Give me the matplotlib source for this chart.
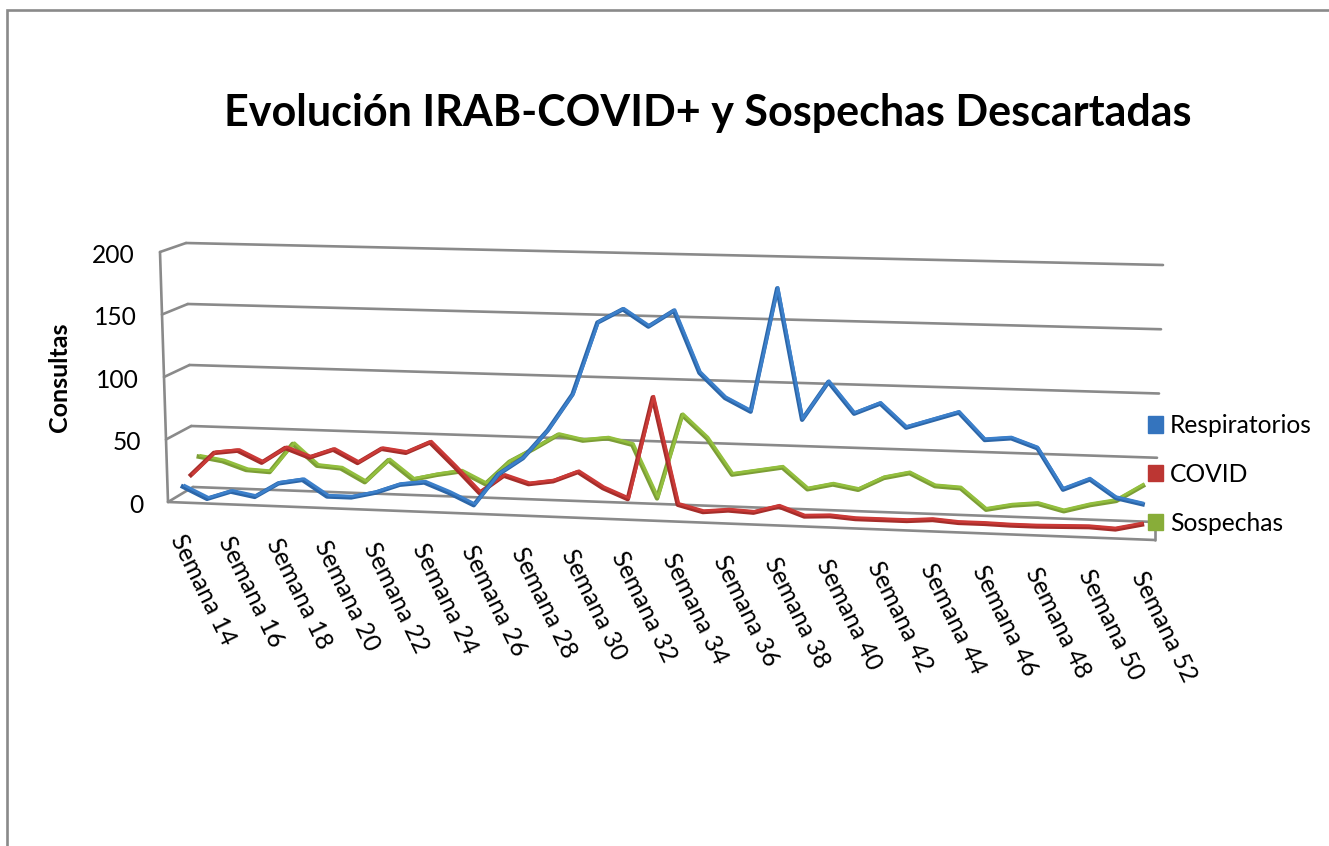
#!/usr/bin/env python3
"""Excel-style pseudo 3D line chart: weekly consultations, drawn on a skewed box."""

import numpy as np

import matplotlib
matplotlib.use("Agg")
import matplotlib.pyplot as plt  # noqa: E402
from matplotlib.patches import Patch  # noqa: E402
from matplotlib.transforms import Transform  # noqa: E402

plt.rcParams["font.family"] = ["Lato", "DejaVu Sans"]

WEEKS = list(range(14, 53))
TICK_WEEKS = WEEKS[::2]
GRID_VALUES = [0, 50, 100, 150, 200]

RESPIRATORIOS = [11, 2, 8.5, 5, 16.5, 20, 7.5, 7.5, 12, 19, 21.5, 14, 5, 30, 43.5,
                 66, 95, 152, 163, 150, 163, 115, 96, 86, 182.5, 81, 111, 87, 95.5,
                 77.5, 84, 90.5, 70, 72, 65, 34, 42.5, 29, 25]
COVID = [16.5, 35, 37.5, 28.5, 41, 34, 41, 31, 43, 40.5, 49.5, 30.5, 10.5, 25, 19,
         22, 30, 18, 10, 91, 7, 2, 4, 3, 8.5, 1.5, 2.5, 1, 1, 1, 2.5, 1, 1, 0.5,
         0.5, 1, 1.5, 0.5, 5]
SOSPECHAS = [27.5, 24.5, 18, 17, 40.5, 23.5, 22, 11.5, 30, 15, 19.5, 23, 13.5, 32,
             43, 55, 51, 53.5, 49, 7, 74, 56, 28, 31.5, 35, 18.5, 23, 19.5, 29.5,
             34, 24.5, 23.5, 7.5, 11.5, 13.5, 8.5, 14, 18, 30.5]

GRID = "#8a8a8a"
# corners of the box in pixels, indexed [side][depth][level]
BOX_X = np.array([[[168, 160], [193, 186]], [[1155, 1163], [1155, 1163]]], float)
BOX_Y = np.array([[[502, 252], [487, 243]], [[540, 277], [522, 265]]], float)


def project(week, value, depth):
    """Pixel position of (week, value) at a depth in the box (0 front, 1 back)."""
    s = (np.asarray(week, float) - 13.5) / 39.0
    t = s + 0.06 * s * (s - 1)  # weeks get wider to the right, like the perspective
    v = np.asarray(value, float) / 200.0

    def blend(box):
        left = box[0, 0, 0] * (1 - depth) + box[0, 1, 0] * depth
        left_top = box[0, 0, 1] * (1 - depth) + box[0, 1, 1] * depth
        right = box[1, 0, 0] * (1 - depth) + box[1, 1, 0] * depth
        right_top = box[1, 0, 1] * (1 - depth) + box[1, 1, 1] * depth
        low = left + (right - left) * t
        high = left_top + (right_top - left_top) * t
        return low + (high - low) * v

    return blend(BOX_X), blend(BOX_Y)


class Plane(Transform):
    """(week, value) on a fixed depth -> pixels."""
    input_dims = output_dims = 2

    def __init__(self, plane_depth):
        super().__init__()
        self.plane_depth = plane_depth

    def transform_non_affine(self, values):
        values = np.asarray(values, float)
        return np.column_stack(project(values[:, 0], values[:, 1], self.plane_depth))


class SideWall(Transform):
    """(depth, value) on the left wall -> pixels."""
    input_dims = output_dims = 2

    def transform_non_affine(self, values):
        values = np.asarray(values, float)
        x0, y0 = project(13.5, values[:, 1], 0.0)
        x1, y1 = project(13.5, values[:, 1], 1.0)
        d = values[:, 0]
        return np.column_stack((x0 + (x1 - x0) * d, y0 + (y1 - y0) * d))


fig = plt.figure(figsize=(13.29, 8.46), dpi=100)
ax = fig.add_axes([0, 0, 1, 1])
ax.set_axis_off()

front = Plane(0.0) + ax.transData
back = Plane(1.0) + ax.transData
side = SideWall() + ax.transData
grid_kw = dict(color=GRID, lw=1.9, solid_capstyle="round")

# chart border, only top and left fall inside the picture
ax.plot([7, 7, 1329], [846, 10, 10], color=GRID, lw=1.9, solid_joinstyle="miter")

for val in GRID_VALUES:
    ax.plot([13.5, 52.5], [val, val], transform=back, **grid_kw)
    ax.plot([0, 1], [val, val], transform=side, **grid_kw)
    ax.annotate(str(val), (13.5, val), xycoords=front, xytext=(-18, -2.5),
                textcoords="offset points", ha="right", va="center", fontsize=17.7)

ax.plot([13.5, 13.5], [0, 200], transform=front, **grid_kw)
ax.plot([13.5, 52.5], [0, 0], transform=front, **grid_kw)
x_a, y_a = project(52.5, 0, 0.0)
x_b, y_b = project(52.5, 0, 1.0)
ax.plot([x_a, x_b], [y_a, y_b], **grid_kw)

# back to front, each line a thin ribbon: dark underside, lit top
series = [(SOSPECHAS, 5 / 6, "#7c9e35", "#93bf3e"),
          (COVID, 3 / 6, "#a52d2a", "#cb3a37"),
          (RESPIRATORIOS, 1 / 6, "#2c66a8", "#3c80cb")]
for vals, depth, dark, light in series:
    ax.plot(WEEKS, vals, transform=Plane(depth - 0.03) + ax.transData, color=dark,
            lw=3.2, solid_joinstyle="round")
    ax.plot(WEEKS, vals, transform=Plane(depth + 0.05) + ax.transData, color=light,
            lw=2.0, solid_joinstyle="round")

for wk in TICK_WEEKS:
    ax.annotate(f"Semana {wk}", (wk, 0), xycoords=front, xytext=(-2.5, -24),
                textcoords="offset points", rotation=-64, rotation_mode="anchor",
                ha="left", va="center", fontsize=17.7)

ax.text(708, 113, "Evolución IRAB-COVID+ y Sospechas Descartadas", ha="center",
        va="center", fontsize=31, fontweight="bold")
ax.text(60, 377, "Consultas", rotation=90, ha="center", va="center", fontsize=18,
        fontweight="bold")

handles = [Patch(color="#3474be", label="Respiratorios"),
           Patch(color="#bc3633", label="COVID"),
           Patch(color="#88ad39", label="Sospechas")]
ax.legend(handles=handles, loc="upper left", bbox_to_anchor=(1148, 414),
          bbox_transform=ax.transData, frameon=False, fontsize=17.7, borderpad=0,
          borderaxespad=0, handlelength=0.61, handleheight=0.65, handletextpad=0.28,
          labelspacing=1.05)

ax.set_xlim(0, 1329)
ax.set_ylim(846, 0)

fig.savefig("out.png", dpi=100)
plt.close(fig)
